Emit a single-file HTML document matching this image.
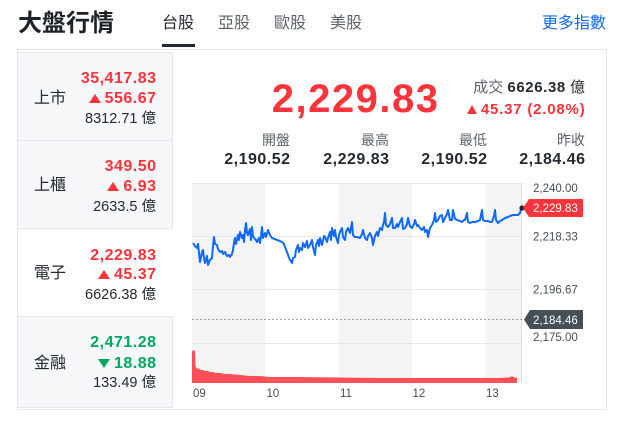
<!DOCTYPE html>
<html><head><meta charset="utf-8">
<style>
*{margin:0;padding:0;box-sizing:border-box}
body{width:624px;height:428px;background:#fff;position:relative;overflow:hidden;font-family:"Liberation Sans","Noto Sans CJK TC",sans-serif;color:#232a31}
.a{position:absolute;white-space:nowrap}
.r{text-align:right}
.red{color:#ff333a}
.grn{color:#00a85f}
.cell{position:absolute;left:18px;width:155px;background:#f5f7f9;border-bottom:1px solid #e3e6ea;border-right:1px solid #e3e6ea}
.up{display:inline-block;width:0;height:0;border-left:6px solid transparent;border-right:6px solid transparent;border-bottom:9px solid #ff333a;margin-right:4px}
.dn{display:inline-block;width:0;height:0;border-left:6px solid transparent;border-right:6px solid transparent;border-top:9px solid #00a85f;margin-right:4px}
.v1{font-size:16px;line-height:16px;font-weight:bold;letter-spacing:0.5px}
.v3{font-size:14.5px;line-height:14.5px}
.lb{font-size:16px;line-height:16px}
</style></head><body>

<div class="a" style="left:18px;top:11.5px;font-size:24px;line-height:24px;font-weight:bold;color:#1d2228">大盤行情</div>
<div class="a" style="left:162px;top:15.5px;font-size:16px;line-height:16px;color:#232a31">台股</div>
<div class="a" style="left:218px;top:15.5px;font-size:16px;line-height:16px;color:#5b636a">亞股</div>
<div class="a" style="left:274px;top:15.5px;font-size:16px;line-height:16px;color:#5b636a">歐股</div>
<div class="a" style="left:330px;top:15.5px;font-size:16px;line-height:16px;color:#5b636a">美股</div>
<div class="a" style="left:162px;top:44px;width:33px;height:3px;background:#232a31"></div>
<div class="a r" style="left:486px;width:120px;top:15.5px;font-size:16px;line-height:16px;color:#0f69ff">更多指數</div>

<div class="a" style="left:17px;top:49px;width:590px;height:361px;border:1px solid #e3e6ea"></div>

<div class="cell" style="top:52px;height:89px;border-top:1px solid #e3e6ea"></div>
<div class="cell" style="top:141px;height:88px"></div>
<div class="cell" style="top:229px;height:88px;background:#fff;border-right:none"></div>
<div class="cell" style="top:317px;height:91px"></div>

<!-- row 1 -->
<div class="a lb" style="left:34px;top:90.6px">上市</div>
<div class="a r v1 red" style="left:18px;width:138.5px;top:70.5px">35,417.83</div>
<div class="a r v1 red" style="left:18px;width:138.5px;top:90.5px"><span class="up"></span>556.67</div>
<div class="a r v3" style="left:18px;width:138px;top:111.7px">8312.71 億</div>
<!-- row 2 -->
<div class="a lb" style="left:34px;top:177.6px">上櫃</div>
<div class="a r v1 red" style="left:18px;width:138.5px;top:158.5px">349.50</div>
<div class="a r v1 red" style="left:18px;width:138.5px;top:178.5px"><span class="up"></span>6.93</div>
<div class="a r v3" style="left:18px;width:138px;top:199.7px">2633.5 億</div>
<!-- row 3 -->
<div class="a lb" style="left:34px;top:265.6px">電子</div>
<div class="a r v1 red" style="left:18px;width:138.5px;top:247.5px">2,229.83</div>
<div class="a r v1 red" style="left:18px;width:138.5px;top:266.5px"><span class="up"></span>45.37</div>
<div class="a r v3" style="left:18px;width:138px;top:287.7px">6626.38 億</div>
<!-- row 4 -->
<div class="a lb" style="left:34px;top:355.6px">金融</div>
<div class="a r v1 grn" style="left:18px;width:138.5px;top:334.5px">2,471.28</div>
<div class="a r v1 grn" style="left:18px;width:138.5px;top:355.5px"><span class="dn"></span>18.88</div>
<div class="a r v3" style="left:18px;width:138px;top:375.7px">133.49 億</div>

<!-- right header -->
<div class="a r red" style="left:200px;width:239.5px;top:79px;font-size:40px;line-height:40px;font-weight:bold;letter-spacing:1.5px">2,229.83</div>
<div class="a r" style="left:400px;width:185px;top:80.3px;font-size:15px;line-height:15px"><span style="color:#5b636a">成交</span> <b style="letter-spacing:0.6px">6626.38</b> 億</div>
<div class="a r red" style="left:400px;width:185.5px;top:102.3px;font-size:15px;line-height:15px;font-weight:bold;letter-spacing:0.8px"><span class="up" style="border-left-width:5.5px;border-right-width:5.5px;border-bottom-width:9px"></span>45.37 (2.08%)</div>

<div class="a r" style="left:190px;width:100px;top:132.5px;font-size:14px;line-height:14px;color:#5b636a">開盤</div>
<div class="a r" style="left:289px;width:100px;top:132.5px;font-size:14px;line-height:14px;color:#5b636a">最高</div>
<div class="a r" style="left:387px;width:100px;top:132.5px;font-size:14px;line-height:14px;color:#5b636a">最低</div>
<div class="a r" style="left:485px;width:100px;top:132.5px;font-size:14px;line-height:14px;color:#5b636a">昨收</div>
<div class="a r v1" style="left:190px;width:100.5px;top:151.5px">2,190.52</div>
<div class="a r v1" style="left:289px;width:100.5px;top:151.5px">2,229.83</div>
<div class="a r v1" style="left:387px;width:100.5px;top:151.5px">2,190.52</div>
<div class="a r v1" style="left:485px;width:100.5px;top:151.5px">2,184.46</div>

<svg class="a" style="left:0;top:0" width="624" height="428" viewBox="0 0 624 428" xmlns="http://www.w3.org/2000/svg">
  <rect x="192" y="183" width="73.3" height="200" fill="#f4f4f4"/>
  <rect x="338.7" y="183" width="73.3" height="200" fill="#f4f4f4"/>
  <rect x="485.3" y="183" width="36.7" height="200" fill="#f4f4f4"/>
  <g stroke="#e8e8e8" stroke-width="1">
    <line x1="192" y1="183.5" x2="522" y2="183.5"/>
    <line x1="192" y1="236.5" x2="522" y2="236.5"/>
    <line x1="192" y1="289.5" x2="522" y2="289.5"/>
    <line x1="192" y1="343.5" x2="522" y2="343.5"/>
  </g>
  <line x1="521.5" y1="183" x2="521.5" y2="383" stroke="#dcdcdc"/>
  <line x1="192" y1="319.5" x2="522" y2="319.5" stroke="#a0a0a0" stroke-dasharray="2,2"/>
  <!-- volume -->
  <polygon fill="#ff333a" fill-opacity="0.85" points="192,383 192,352 193,350 195,351 195.5,366 197,369 199,368 200,370 203,370 205,371 208,371 210,372 213,372 215,373 220,373 225,374 230,374 240,375 250,376 260,376 270,377 300,377 340,377.5 380,378 420,378 460,378 500,378 508,377.5 511,377 512,375.5 513,377 515,377.5 517,378 517,383"/>
  <!-- price line -->
  <polyline fill="none" stroke="#0f69ff" stroke-width="2" stroke-linejoin="round" points="193,243 195,246 197,248 198,244 200,262 202,252 203,250 204,258 205,263 207,256 208,265 210,260 212,258 213,246 214,237 215,244 217,245 218,249 220,252 222,251 223,254 225,252 227,256 229,255 230,257 232,254 233,250 234,243 235,238 236,244 238,235 239,240 240,232 242,238 243,235 244,242 245,230 246,223 247,233 248,235 250,229 251,240 252,227 253,236 254,238 256,240 257,242 259,238 260,243 261,236 262,227 263,238 265,233 266,237 268,230 270,235 272,238 275,239 277,240 280,241 282,242 284,244 285,247 287,252 288,255 290,260 292,263 293,258 295,257 296,250 298,245 299,252 300,248 302,250 303,243 305,247 307,241 308,248 310,245 312,240 313,247 315,255 316,245 318,240 319,246 320,238 322,245 324,236 325,237 327,242 328,238 330,232 331,240 332,228 334,236 335,230 336,237 338,243 339,235 340,232 342,228 343,237 345,240 346,232 348,228 350,233 352,222 353,235 355,237 357,237 360,238 362,234 363,230 365,238 367,240 368,236 370,233 372,238 373,245 375,236 377,232 378,236 380,228 382,230 383,225 384,222 385,213 386,225 388,227 390,224 392,218 393,228 395,228 397,224 398,227 400,222 402,218 403,229 405,228 407,224 408,218 410,226 412,228 414,224 415,220 417,226 418,225 420,228 422,230 424,227 425,232 427,230 428,237 430,228 432,225 434,220 435,213 436,222 438,220 440,216 442,215 443,222 445,218 447,214 448,210 450,220 452,220 453,210 455,219 457,220 460,221 462,222 464,220 465,220 467,213 468,222 470,223 472,222 475,222 478,221 480,220 482,210 483,220 485,221 488,221 490,222 492,222 494,216 495,210 496,220 498,223 500,221 502,220 505,218 508,217 510,216 513,215 515,215 518,215 520,213 521,209 522,208"/>
  <circle cx="522" cy="208" r="2.6" fill="#232a31"/>
  <!-- y labels -->
  <g font-family="Liberation Sans, sans-serif" font-size="11.5" fill="#464e56">
    <text x="533" y="192">2,240.00</text>
    <text x="533" y="240.5">2,218.33</text>
    <text x="533" y="293.5">2,196.67</text>
    <text x="533" y="341">2,175.00</text>
  </g>
  <polygon points="523,208 529,199 583,199 583,217 529,217" fill="#ff333a"/>
  <text x="533" y="212.2" font-family="Liberation Sans, sans-serif" font-size="11.5" fill="#fff">2,229.83</text>
  <polygon points="524,319.5 530,310 583,310 583,329 530,329" fill="#464e56"/>
  <text x="533" y="323.8" font-family="Liberation Sans, sans-serif" font-size="11.5" fill="#fff">2,184.46</text>
  <!-- x labels -->
  <g font-family="Liberation Sans, sans-serif" font-size="11.5" fill="#464e56">
    <text x="193" y="397">09</text>
    <text x="266.5" y="397">10</text>
    <text x="340" y="397">11</text>
    <text x="412.5" y="397">12</text>
    <text x="486" y="397">13</text>
  </g>
</svg>
</body></html>
